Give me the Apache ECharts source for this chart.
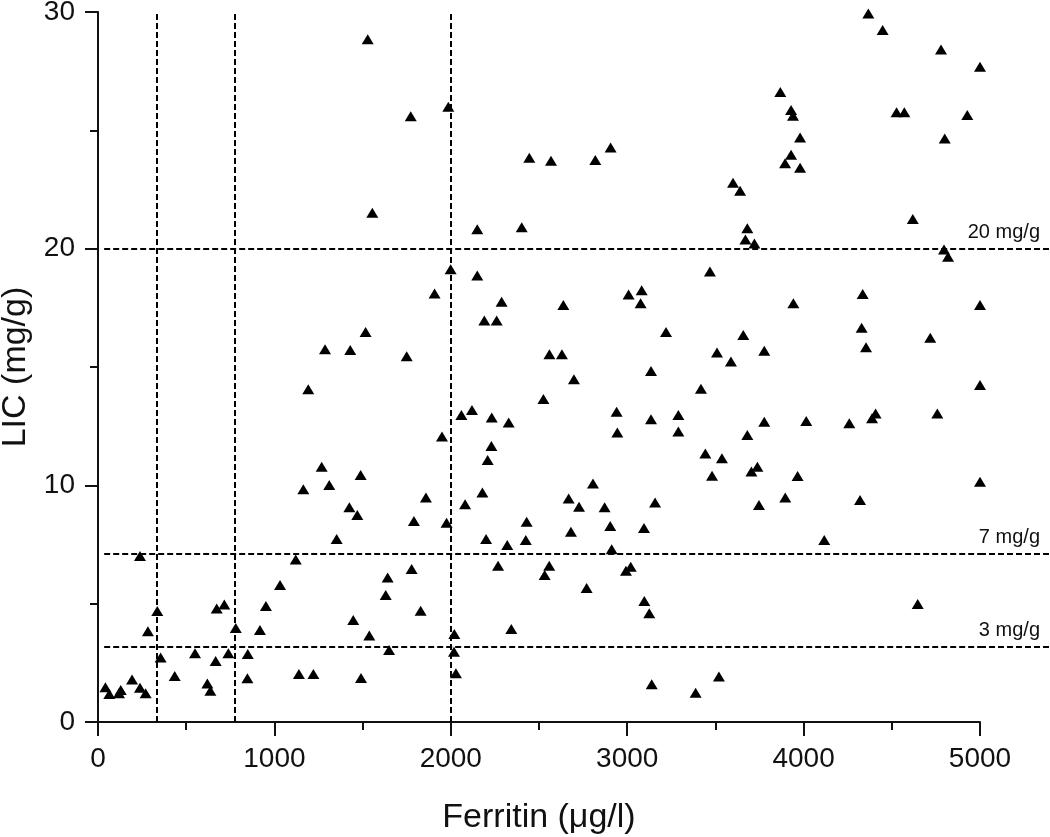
<!DOCTYPE html>
<html>
<head>
<meta charset="utf-8">
<title>LIC vs Ferritin</title>
<script src="https://cdn.jsdelivr.net/npm/echarts/dist/echarts.min.js"></script>
<style>
  html, body { margin: 0; padding: 0; background: #fff; }
  #lic_ferritin { width: 1050px; height: 837px; }
</style>
</head>
<body>
<div id="lic_ferritin"></div>
<script>
// ferritin (ug/l), one per patient
var ferritin = [
	1529, 1773, 1986, 2445, 2568, 2819, 2906, 1555, 2150, 2402, 1999, 2150,
	4367, 4448, 4779, 5000, 3868, 3929, 3940, 4527, 4571, 4928, 3980, 4800,
	3929, 3895, 3980, 3600, 3640, 4619, 3681, 3670, 3721, 4796, 4819, 3469,
	1287, 1430, 1192, 1268, 1164, 1311, 1425, 1908, 2288, 2638, 3008, 3082,
	3076, 2190, 2260, 1517, 3220, 1750, 2559, 2630, 3135, 2698, 2525, 2060,
	2120, 2232, 2328, 2940, 3135, 3290, 3290, 2944, 1950, 2230, 2209, 1489,
	2806, 1859, 2179, 2668, 2727, 2872, 3158, 2081, 4335, 3942, 5000, 4329,
	4718, 3658, 3509, 3588, 3777, 4354, 3418, 5000, 4408, 4388, 4758, 3777,
	4015, 4259, 3681, 3443, 3537, 3481, 3738, 3704, 3966, 5000, 3896, 4320,
	3747, 1353, 238, 1121, 1032, 336, 673, 716, 952, 283, 781, 918,
	355, 550, 667, 739, 849, 435, 847, 1139, 1221, 193, 42, 64,
	129, 119, 238, 270, 620, 637, 1470, 1791, 1976, 2430, 2904, 3095,
	2200, 2425, 2681, 2320, 2912, 2268, 2558, 2532, 1778, 1642, 2993, 3020,
	1631, 2770, 1829, 3097, 3125, 1447, 1538, 2020, 2343, 1650, 2018, 2029,
	1491, 3139, 4117, 4647, 3520, 3388
];
// liver iron concentration (mg/g), same order
var lic = [
	28.85, 25.6, 26.0, 23.84, 23.72, 23.75, 24.27, 21.52, 20.82, 20.9, 19.13, 18.87,
	29.94, 29.24, 28.42, 27.69, 26.62, 25.86, 25.62, 25.76, 25.76, 25.65, 24.7, 24.65,
	23.97, 23.61, 23.42, 22.79, 22.45, 21.25, 20.86, 20.39, 20.22, 19.97, 19.66, 19.03,
	15.75, 15.72, 14.06, 10.79, 9.83, 10.01, 9.07, 18.11, 17.76, 17.62, 18.06, 18.24,
	17.69, 16.96, 16.96, 16.48, 16.48, 15.45, 15.54, 15.54, 14.83, 14.48, 13.65, 12.97,
	13.18, 12.87, 12.65, 13.11, 12.79, 12.97, 12.27, 12.23, 12.06, 11.66, 11.07, 10.44,
	10.08, 9.49, 9.7, 9.44, 9.1, 9.07, 9.27, 9.2, 18.08, 17.69, 17.62, 16.66,
	16.24, 16.35, 15.61, 15.23, 15.69, 15.83, 14.08, 14.24, 13.04, 12.83, 13.04, 12.69,
	12.72, 12.62, 12.13, 11.35, 11.14, 10.41, 10.79, 10.58, 10.39, 10.15, 9.49, 9.38,
	9.17, 7.73, 7.01, 6.87, 5.79, 4.69, 4.8, 4.96, 4.9, 3.83, 3.97, 3.89,
	2.73, 2.9, 2.58, 2.9, 2.87, 1.94, 1.85, 2.03, 2.03, 1.8, 1.47, 1.18,
	1.35, 1.21, 1.45, 1.21, 1.63, 1.32, 8.75, 8.49, 8.42, 8.46, 8.28, 8.2,
	7.73, 7.69, 8.04, 7.48, 7.3, 6.6, 6.6, 6.21, 6.46, 6.11, 6.39, 6.56,
	5.37, 5.66, 4.7, 5.11, 4.59, 4.31, 3.65, 3.72, 3.93, 3.04, 2.97, 2.06,
	1.86, 1.59, 7.69, 4.99, 1.92, 1.24
];

// cut-offs
var ferritinCuts = [333, 775, 2000];
var licCuts = [3.2, 7.1, 20];
var licCutLabels = ['3 mg/g', '7 mg/g', '20 mg/g'];

var FONT = 'Liberation Sans, Arial, Helvetica, sans-serif';

/**
 * build chart config from the arrays
 */
function getScatterConfig() {
	var points = [];
	for (var i = 0; i < ferritin.length; i++) {
		points.push([ferritin[i], lic[i]]);
	}

	var cutLines = [];
	for (var j = 0; j < ferritinCuts.length; j++) {
		cutLines.push({ xAxis: ferritinCuts[j] });
	}
	for (var k = 0; k < licCuts.length; k++) {
		cutLines.push([{ coord: [35, licCuts[k]] }, { coord: [5000, licCuts[k]] }]);
	}

	// right margin part of horizontal lines, with the labels
	var tailLines = [];
	for (var m = 0; m < licCuts.length; m++) {
		tailLines.push({ yAxis: licCuts[m], label: { formatter: licCutLabels[m] } });
	}

	return { points: points, cutLines: cutLines, tailLines: tailLines };
}

function initScatterChart(conf) {
	var myChart = echarts.init(document.getElementById('lic_ferritin'));

	var dashed = { color: '#000', type: [6, 3], width: 2 };
	var plain = function(v) { return String(v); };

	var options = {
		animation: false,
		textStyle: { fontFamily: FONT },
		grid: [
			{ left: 98, right: 70, top: 12, bottom: 115, containLabel: false, outerBoundsMode: 'none' },
			{ left: 980, right: 0, top: 12, bottom: 115, containLabel: false, outerBoundsMode: 'none' }
		],
		xAxis: [
			{
				gridIndex: 0,
				type: 'value',
				min: 0,
				max: 5000,
				interval: 1000,
				name: 'Ferritin (\u03bcg/l)',
				nameLocation: 'middle',
				nameGap: 79,
				nameTextStyle: { fontSize: 34, color: '#111', fontFamily: FONT },
				axisLine: { lineStyle: { color: '#111', width: 2 } },
				axisTick: { length: 14, lineStyle: { color: '#111', width: 2 } },
				minorTick: { show: true, splitNumber: 2, length: 8, lineStyle: { color: '#111', width: 2 } },
				axisLabel: { fontSize: 28, color: '#111', margin: 23, fontFamily: FONT, formatter: plain },
				splitLine: { show: false }
			},
			{ gridIndex: 1, type: 'value', min: 0, max: 1, show: false }
		],
		yAxis: [
			{
				gridIndex: 0,
				type: 'value',
				min: 0,
				max: 30,
				interval: 10,
				name: 'LIC (mg/g)',
				nameLocation: 'middle',
				nameGap: 56,
				nameTextStyle: { fontSize: 34, color: '#111', fontFamily: FONT },
				axisLine: { show: true, lineStyle: { color: '#111', width: 2 } },
				axisTick: { show: true, length: 13, lineStyle: { color: '#111', width: 2 } },
				minorTick: { show: true, splitNumber: 2, length: 8, lineStyle: { color: '#111', width: 2 } },
				axisLabel: { fontSize: 28, color: '#111', margin: 23, fontFamily: FONT, formatter: plain },
				splitLine: { show: false }
			},
			{ gridIndex: 1, type: 'value', min: 0, max: 30, show: false }
		],
		series: [
			{
				type: 'scatter',
				xAxisIndex: 0,
				yAxisIndex: 0,
				symbol: 'triangle',
				symbolSize: [12, 10],
				itemStyle: { color: '#000', opacity: 1 },
				data: conf.points,
				clip: true,
				markLine: {
					silent: true,
					symbol: ['none', 'none'],
					label: { show: false },
					lineStyle: dashed,
					data: conf.cutLines
				}
			},
			{
				type: 'scatter',
				xAxisIndex: 1,
				yAxisIndex: 1,
				data: [],
				markLine: {
					silent: true,
					symbol: ['none', 'none'],
					lineStyle: dashed,
					label: {
						show: true,
						position: 'insideEndTop',
						distance: [10, 6],
						fontSize: 20,
						color: '#111',
						fontFamily: FONT
					},
					data: conf.tailLines
				}
			}
		]
	};
	myChart.setOption(options);
}

initScatterChart(getScatterConfig());
</script>
</body>
</html>
